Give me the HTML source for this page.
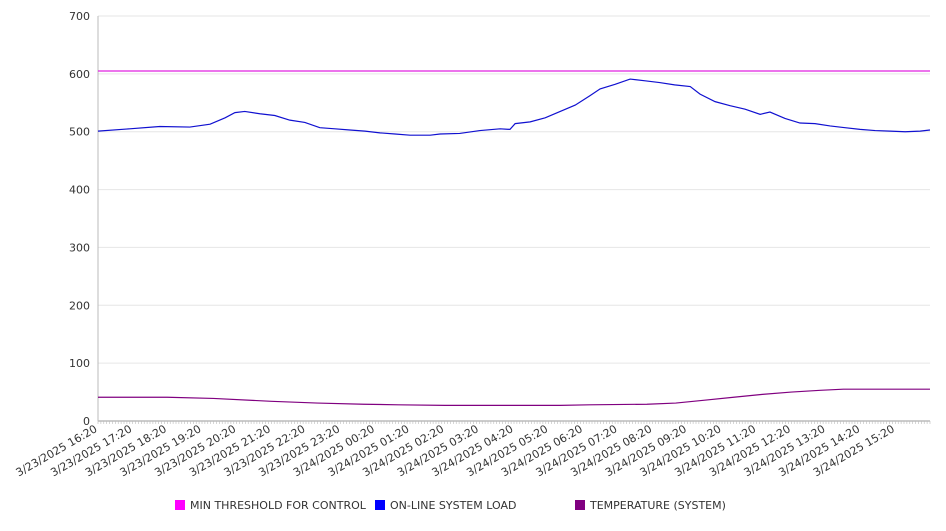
<!DOCTYPE html>
<html><head><meta charset="utf-8"><style>
html,body{margin:0;padding:0;background:#fff;}
svg text{font-family:"DejaVu Sans","Liberation Sans",sans-serif;font-size:11px;fill:#333;}
</style></head><body>
<svg id="c" width="946" height="526" xmlns="http://www.w3.org/2000/svg"></svg>
<script>
const yTicks=[0,100,200,300,400,500,600,700];
const xTickLabels=["3/23/2025 16:20","3/23/2025 17:20","3/23/2025 18:20","3/23/2025 19:20","3/23/2025 20:20","3/23/2025 21:20","3/23/2025 22:20","3/23/2025 23:20","3/24/2025 00:20","3/24/2025 01:20","3/24/2025 02:20","3/24/2025 03:20","3/24/2025 04:20","3/24/2025 05:20","3/24/2025 06:20","3/24/2025 07:20","3/24/2025 08:20","3/24/2025 09:20","3/24/2025 10:20","3/24/2025 11:20","3/24/2025 12:20","3/24/2025 13:20","3/24/2025 14:20","3/24/2025 15:20"];
const thresholdValue=605;
const loadMinutes=[0,55,107,159,194,220,237,254,280,306,332,358,384,410,436,462,488,514,540,575,592,626,661,696,713,722,748,774,800,826,851,869,895,921,947,972,998,1025,1042,1068,1094,1120,1146,1163,1189,1215,1241,1267,1293,1319,1345,1371,1397,1423,1440];
const loadValues=[501,505,509,508,513,524,533,535,531,528,520,516,507,505,503,501,498,496,494,494,496,497,502,505,504,514,517,524,535,546,562,574,582,591,588,585,581,578,565,552,545,539,530,534,523,515,514,510,507,504,502,501,500,501,503];
const tempMinutes=[0,120,200,300,380,460,520,600,800,850,950,1000,1050,1100,1150,1200,1250,1290,1440];
const tempValues=[41,41,39,34,31,29,28,27,27,28,29,31,36,41,46,50,53,55,55];
const legendLabels=["MIN THRESHOLD FOR CONTROL","ON-LINE SYSTEM LOAD","TEMPERATURE (SYSTEM)"];

const X0=98,X1=930,Y0=421,Y1=16,TOTAL=1440;
const xs=m=>X0+(m/TOTAL)*(X1-X0);
const ys=v=>Y0-(v/700)*(Y0-Y1);
const svg=document.getElementById('c');
const NS='http://www.w3.org/2000/svg';
function mk(tag,attrs,parent){const e=document.createElementNS(NS,tag);for(const k in attrs)e.setAttribute(k,attrs[k]);(parent||svg).appendChild(e);return e;}

yTicks.forEach(t=>{
  const g=mk('line',{x1:X0,x2:X1,y1:ys(t),y2:ys(t),stroke:t===0?'#999':'#e6e6e6','stroke-width':1});
  
  
  const tx=mk('text',{x:90,y:ys(t)+4,'text-anchor':'end'});
  tx.textContent=t;
  
  
});
const ax=mk('line',{x1:X0,x2:X0,y1:Y1,y2:Y0,stroke:'#bbb','stroke-width':1});


for(let m=0;m<=TOTAL;m+=5){
  const tk=mk('line',{x1:xs(m),x2:xs(m),y1:Y0,y2:Y0+3,stroke:'#bbb','stroke-width':0.6});
  
  
}
xTickLabels.forEach((l,i)=>{
  const x=xs(i*60),y=Y0+10;
  const t=mk('text',{x:x,y:y,'text-anchor':'end',transform:`rotate(-30 ${x} ${y})`});
  t.textContent=l;
  
  
});
const th=mk('line',{x1:X0,x2:X1,y1:ys(thresholdValue),y2:ys(thresholdValue),stroke:'#e020e0','stroke-width':1.2});


const lp=mk('polyline',{points:loadMinutes.map((m,i)=>xs(m)+','+ys(loadValues[i])).join(' '),fill:'none',stroke:'#1010d0','stroke-width':1.2});


const tp=mk('polyline',{points:tempMinutes.map((m,i)=>xs(m)+','+ys(tempValues[i])).join(' '),fill:'none',stroke:'#800080','stroke-width':1.2});


const cols=['#ff00ff','#0000ff','#800080'],lx=[175,375,575];
legendLabels.forEach((l,i)=>{
  const g=mk('g',{});
  
  
  mk('rect',{x:lx[i],y:500,width:10,height:10,fill:cols[i]},g);
  const t=mk('text',{x:lx[i]+15,y:509},g);
  t.textContent=l;
});
</script>
</body></html>
